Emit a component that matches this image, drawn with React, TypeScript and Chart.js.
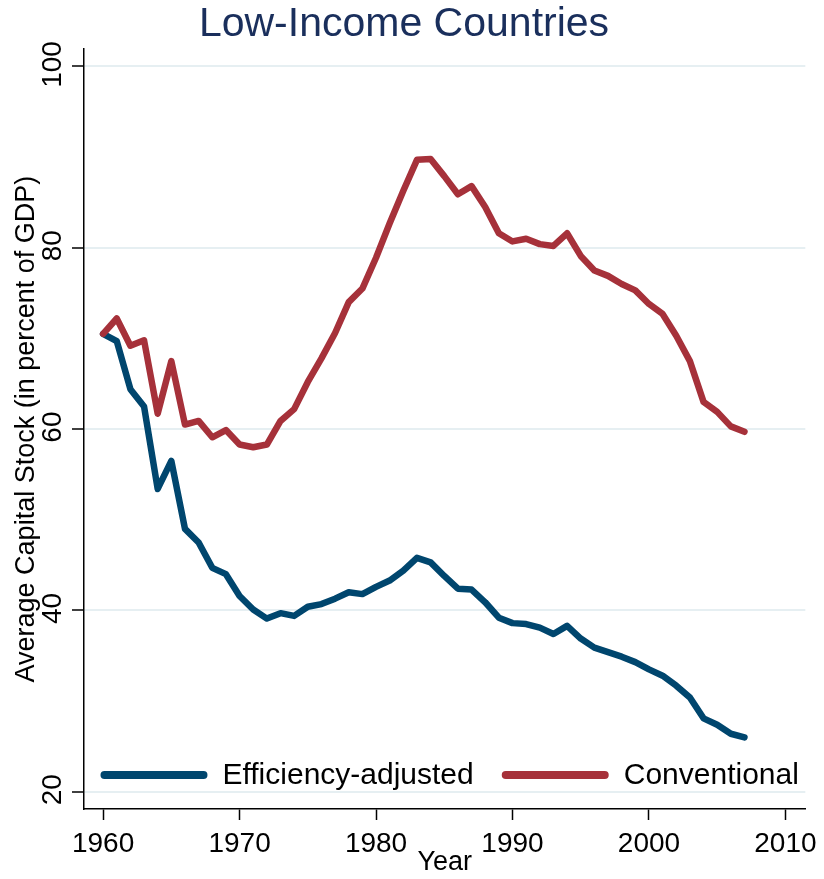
import React, { useEffect, useRef } from 'react';
import { Chart, registerables } from 'chart.js';

Chart.register(...registerables);

const chartTitle = 'Low-Income Countries';
const xAxisTitle = 'Year';
const yAxisTitle = 'Average Capital Stock (in percent of GDP)';
const seriesLabels = ['Efficiency-adjusted', 'Conventional'];

const years = [
  1960, 1961, 1962, 1963, 1964, 1965, 1966, 1967, 1968, 1969,
  1970, 1971, 1972, 1973, 1974, 1975, 1976, 1977, 1978, 1979,
  1980, 1981, 1982, 1983, 1984, 1985, 1986, 1987, 1988, 1989,
  1990, 1991, 1992, 1993, 1994, 1995, 1996, 1997, 1998, 1999,
  2000, 2001, 2002, 2003, 2004, 2005, 2006, 2007,
];

const efficiencyAdjusted = [
  70.5, 69.7, 64.4, 62.5, 53.4, 56.5, 49.0, 47.5, 44.7, 44.0,
  41.6, 40.1, 39.1, 39.7, 39.4, 40.4, 40.7, 41.3, 42.0, 41.8,
  42.6, 43.3, 44.4, 45.8, 45.3, 43.8, 42.4, 42.3, 40.9, 39.2,
  38.6, 38.5, 38.1, 37.4, 38.3, 36.9, 35.9, 35.4, 34.9, 34.3,
  33.5, 32.8, 31.7, 30.4, 28.1, 27.4, 26.4, 26.0,
];

const conventional = [
  70.5, 72.2, 69.2, 69.8, 61.7, 67.5, 60.5, 60.9, 59.1, 59.9,
  58.3, 58.0, 58.3, 60.9, 62.2, 65.2, 67.8, 70.6, 74.0, 75.5,
  78.9, 82.7, 86.3, 89.7, 89.8, 87.9, 85.9, 86.8, 84.5, 81.6,
  80.7, 81.0, 80.4, 80.2, 81.6, 79.1, 77.5, 76.9, 76.0, 75.3,
  73.8, 72.7, 70.3, 67.5, 63.0, 61.9, 60.3, 59.7,
];

const xTickValues = [1960, 1970, 1980, 1990, 2000, 2010];
const yTickValues = [20, 40, 60, 80, 100];

const BLUE = '#00466e';
const RED = '#a6313a';
const FONT = '"Liberation Sans", Arial, Helvetica, sans-serif';

const customDraw = {
  id: 'customDraw',
  afterDraw(chart: any) {
    const { ctx, chartArea, scales } = chart;
    const yScale = scales.y;
    ctx.save();
    // rotated y tick labels
    ctx.font = `28px ${FONT}`;
    ctx.fillStyle = '#000';
    ctx.textAlign = 'center';
    ctx.textBaseline = 'middle';
    yTickValues.forEach((v) => {
      const py = yScale.getPixelForValue(v);
      ctx.save();
      ctx.translate(chartArea.left - 31, py - 2);
      ctx.rotate(-Math.PI / 2);
      ctx.fillText(String(v), 0, 0);
      ctx.restore();
    });

    // legend inside plot area
    ctx.font = `30px ${FONT}`;
    const sampleLen = 107;
    const textGap = 15;
    const itemGap = 28;
    const colors = [BLUE, RED];
    const widths = seriesLabels.map((t) => ctx.measureText(t).width);
    const total = widths.reduce((a, w) => a + sampleLen + textGap + w, 0) + itemGap * (seriesLabels.length - 1);
    let x = (chartArea.left + chartArea.right) / 2 - total / 2 + 5;
    const ly = chartArea.bottom - 34;
    seriesLabels.forEach((label, i) => {
      ctx.strokeStyle = colors[i];
      ctx.lineWidth = 8;
      ctx.lineCap = 'round';
      ctx.beginPath();
      ctx.moveTo(x + 4, ly);
      ctx.lineTo(x + sampleLen - 4, ly);
      ctx.stroke();
      x += sampleLen + textGap;
      ctx.fillStyle = '#000';
      ctx.textAlign = 'left';
      ctx.textBaseline = 'middle';
      ctx.fillText(label, x, ly + 1);
      x += widths[i] + itemGap;
    });
    ctx.restore();
  },
};

export default function App() {
  const canvasRef = useRef<HTMLCanvasElement | null>(null);

  useEffect(() => {
    document.body.style.margin = '0';
    const canvas = canvasRef.current;
    if (!canvas) return;
    const chart = new Chart(canvas, {
      type: 'line',
      data: {
        datasets: [
          {
            label: seriesLabels[0],
            data: years.map((yr, i) => ({ x: yr, y: efficiencyAdjusted[i] })),
            borderColor: BLUE,
            backgroundColor: BLUE,
            borderWidth: 6.5,
            borderCapStyle: 'round',
            borderJoinStyle: 'round',
            pointRadius: 0,
            tension: 0,
            order: 1,
          },
          {
            label: seriesLabels[1],
            data: years.map((yr, i) => ({ x: yr, y: conventional[i] })),
            borderColor: RED,
            backgroundColor: RED,
            borderWidth: 6.5,
            borderCapStyle: 'round',
            borderJoinStyle: 'round',
            pointRadius: 0,
            tension: 0,
            order: 0,
          },
        ],
      },
      options: {
        responsive: false,
        animation: false,
        devicePixelRatio: 1,
        layout: { padding: { left: 0, right: 16, top: 0, bottom: 0 } },
        plugins: {
          legend: { display: false },
          tooltip: { enabled: false },
          title: {
            display: true,
            text: chartTitle,
            color: '#1a2f5c',
            font: { family: FONT, size: 41, weight: 'normal', lineHeight: 1.2 },
            padding: { top: 0, bottom: 0 },
          },
        },
        scales: {
          x: {
            type: 'linear',
            min: 1958.6,
            max: 2011.46,
            afterBuildTicks: (s: any) => {
              s.ticks = xTickValues.map((value) => ({ value }));
            },
            afterFit: (s: any) => {
              s.height = 70;
            },
            ticks: {
              color: '#000',
              font: { family: FONT, size: 28 },
              padding: 7,
              maxRotation: 0,
              autoSkip: false,
              callback: (v: any) => String(v),
            },
            grid: {
              drawOnChartArea: false,
              drawTicks: true,
              tickLength: 11,
              tickColor: '#000',
              tickWidth: 1.5,
            },
            border: { display: true, color: '#000', width: 1.5 },
            title: {
              display: true,
              text: xAxisTitle,
              color: '#000',
              font: { family: FONT, size: 27 },
              padding: { top: 0, bottom: 0 },
            },
          },
          y: {
            type: 'linear',
            min: 18.1,
            max: 101.9,
            afterBuildTicks: (s: any) => {
              s.ticks = yTickValues.map((value) => ({ value }));
            },
            afterFit: (s: any) => {
              s.width = 84;
            },
            ticks: { display: false },
            grid: {
              color: '#e6eff2',
              lineWidth: 2,
              drawTicks: true,
              tickLength: 12,
              tickColor: '#000',
              tickWidth: 1.5,
            },
            border: { display: true, color: '#000', width: 1.5 },
            title: {
              display: true,
              text: yAxisTitle,
              color: '#000',
              font: { family: FONT, size: 27 },
              padding: { top: 10, bottom: 0 },
            },
          },
        },
      },
      plugins: [customDraw],
    } as any);
    return () => chart.destroy();
  }, []);

  return (
    <div style={{ width: 824, height: 879 }}>
      <canvas ref={canvasRef} width={824} height={879} style={{ display: 'block' }} />
    </div>
  );
}
